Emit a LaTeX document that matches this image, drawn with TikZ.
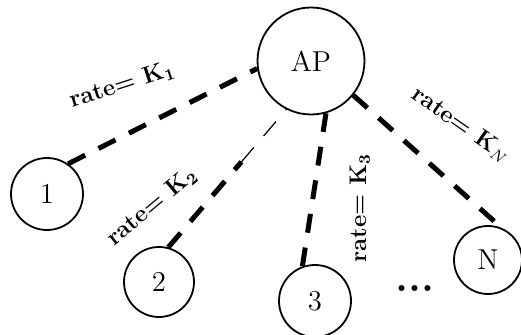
\documentclass[tikz,border=0pt]{standalone}
\usepackage{tikz}
\usetikzlibrary{calc}
\tikzstyle{station}=[draw,circle,line width=.9pt,inner sep=0pt,font=\Large]
\tikzstyle{link}=[line width=2.5pt,dash pattern=on 9.5pt off 7.5pt]
\tikzstyle{rate}=[font=\large\bfseries,inner sep=1pt]

\begin{document}
\begin{tikzpicture}[x=.5pt,y=-.5pt]
	\useasboundingbox (0,0) rectangle (521,335);
	\node[station,minimum size=53.5pt] (AP) at (311,61) {AP};
	\node[station,minimum size=36pt] (1) at (47,194) {1};
	\node[station,minimum size=35pt] (2) at (159,282) {2};
	\node[station,minimum size=36pt] (3) at (315,301) {3};
	\node[station,minimum size=34pt] (N) at (488,260) {N};
	\node (dots) at (415,289) {\huge\bfseries ...};
	\draw[link] (1.55) -- (AP.188);
	\draw[link] (2.75) -- ($(2.75)!.62!(AP.243)$) coordinate (fade);
	\draw[link,line width=.6pt] (fade) -- (AP.243);
	\draw[link] (3.110) -- (AP.286);
	\draw[link] (AP.321) -- (N.67);
	\node[rate,rotate=18] (r1) at (122,85) {rate= K\textsubscript{1}};
	\node[rate,rotate=40] (r2) at (152,207) {rate= K\textsubscript{2}};
	\node[rate,rotate=90] (r3) at (360,208) {rate= K\textsubscript{3}};
	\node[rate,rotate=-35] (rN) at (461,125) {rate= K$_N$};
\end{tikzpicture}
\end{document}
